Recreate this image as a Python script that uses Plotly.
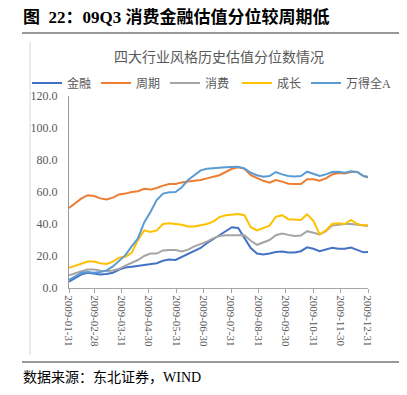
import plotly.graph_objects as go

dates = [
    "2009-01-31", "2009-02-07", "2009-02-14", "2009-02-21", "2009-02-28", "2009-03-07",
    "2009-03-14", "2009-03-21", "2009-03-28", "2009-04-04", "2009-04-11", "2009-04-18",
    "2009-04-25", "2009-05-02", "2009-05-09", "2009-05-16", "2009-05-23", "2009-05-30",
    "2009-06-06", "2009-06-13", "2009-06-20", "2009-06-27", "2009-07-04", "2009-07-11",
    "2009-07-18", "2009-07-25", "2009-08-01", "2009-08-08", "2009-08-15", "2009-08-22",
    "2009-08-29", "2009-09-05", "2009-09-12", "2009-09-19", "2009-09-26", "2009-10-03",
    "2009-10-10", "2009-10-17", "2009-10-24", "2009-10-31", "2009-11-07", "2009-11-14",
    "2009-11-21", "2009-11-28", "2009-12-05", "2009-12-12", "2009-12-19", "2009-12-26",
    "2009-12-31",
]

jinrong = [4, 6.5, 8.5, 9.5, 9.2, 8.5, 8.7, 9.5, 11.5, 12.8, 13.3, 13.8, 14.4, 15, 15.5,
           17, 17.8, 17.5, 19.5, 21, 23, 25, 28, 30.5, 33, 35.5, 38, 37.5, 31, 25, 21.5,
           21, 21.6, 22.5, 22.8, 22.2, 22.2, 23, 25.4, 24.5, 23, 24, 25.2, 24.5, 24.5,
           25.3, 23.8, 22.3, 22.5]

zhouqi = [50, 53, 56, 58, 57.5, 56, 55.3, 56.5, 58.5, 59, 60, 60.5, 62, 61.5, 62.5, 64,
          65, 65, 66, 66.5, 67, 67.5, 68.5, 69.5, 70.5, 72.5, 74.5, 75.5, 74.5, 70.5,
          68.5, 67, 65.8, 67.5, 66.5, 65.2, 65, 65, 68, 68, 67, 68.5, 71, 71.8, 71.5,
          72.5, 72.5, 70, 69]

xiaofei = [8, 9.5, 10.5, 11.5, 11.5, 10.8, 10.5, 11, 12, 14, 15.6, 17.5, 20, 21.5, 21.5,
           23.5, 23.8, 23.8, 22.8, 24, 26, 27.5, 29, 31, 32.5, 33, 33.2, 33, 33, 29.5,
           27, 28.5, 30, 33, 34, 33.2, 32.5, 32.8, 35.5, 34.5, 33.5, 35.5, 39, 39.5, 40,
           40, 39.5, 39, 38.8]

chengzhang = [12.7, 14, 15.5, 16.5, 16.5, 15.5, 15, 16.5, 19, 19.5, 22, 30, 36, 35, 36,
              40, 40.5, 40, 39.5, 38.5, 38.5, 39.2, 40, 41.5, 44.3, 45.5, 46, 46.2, 45.5,
              38, 36, 37.5, 39, 44.5, 45.5, 43, 42.8, 42.5, 46, 42, 33.5, 36, 40, 40.5,
              40, 42.5, 40, 39, 39.4]

wande = [5, 7, 9.5, 10, 9.5, 10, 11, 13.5, 17, 20.5, 26, 31, 41, 47.5, 55, 59, 59.8, 60,
         63, 67.5, 70.5, 73.5, 74.5, 75, 75.2, 75.5, 75.8, 75.8, 74.8, 72, 70.5, 69.5,
         70, 72.5, 71, 70, 69.7, 70, 72.7, 71.5, 70, 71, 72.5, 72.7, 72, 73, 72.5, 70,
         69.6]

series_names = ["金融", "周期", "消费", "成长", "万得全A"]
series_values = [jinrong, zhouqi, xiaofei, chengzhang, wande]
series_colors = ["#4472C4", "#ED7D31", "#A5A5A5", "#FFC000", "#5B9BD5"]
series_legend = ["legend", "legend", "legend", "legend2", "legend2"]

tick_dates = ["2009-01-31", "2009-02-28", "2009-03-31", "2009-04-30", "2009-05-31",
              "2009-06-30", "2009-07-31", "2009-08-31", "2009-09-30", "2009-10-31",
              "2009-11-30", "2009-12-31"]
y_ticks = [0, 20, 40, 60, 80, 100, 120]

FONT = "Liberation Serif, Noto Sans CJK SC, serif"
GRAY = "#595959"

# page has an 8px body margin; figure is sized to fit the 407x395 window
W, H = 399, 387
PL, PR, PT, PB = 69, 368, 96, 288   # plot area in page pixels


def xp(px):
    return (px - PL) / (PR - PL)


def yp(py):
    return (PB - py) / (PB - PT)


fig = go.Figure()
for name, vals, col, lg in zip(series_names, series_values, series_colors, series_legend):
    fig.add_trace(go.Scatter(x=dates, y=vals, name=name, mode="lines", legend=lg,
                             line=dict(color=col, width=2)))

legend_common = dict(orientation="h", xref="container", yref="paper",
                     y=yp(83), yanchor="middle",
                     font=dict(size=12, color=GRAY, family=FONT),
                     itemwidth=30, tracegroupgap=0, bgcolor="rgba(0,0,0,0)")

fig.update_layout(
    width=W, height=H,
    margin=dict(l=PL - 8, r=W - (PR - 8), t=PT - 8, b=H - (PB - 8), autoexpand=False),
    paper_bgcolor="white", plot_bgcolor="white",
    font=dict(family=FONT, color=GRAY, size=12),
    showlegend=True,
    legend=dict(legend_common, x=(27 - 8) / W, xanchor="left"),
    legend2=dict(legend_common, x=(237 - 8) / W, xanchor="left"),
    xaxis=dict(type="date", range=["2009-01-31", "2009-12-31"],
               tickvals=tick_dates, ticktext=tick_dates, tickangle=90,
               showgrid=False, zeroline=False, showline=True, linecolor="#A6A6A6",
               linewidth=1, ticks="outside", ticklen=4, tickcolor="#A6A6A6",
               tickfont=dict(size=11, color=GRAY, family=FONT), automargin=False),
    yaxis=dict(range=[0, 120], tickvals=y_ticks, tickformat=".1f",
               showgrid=False, zeroline=False, showline=True, linecolor="#999999",
               linewidth=1, ticks="outside", ticklen=8, tickcolor="rgba(0,0,0,0)",
               tickfont=dict(size=12, color=GRAY, family=FONT), automargin=False),
    shapes=[
        dict(type="line", xref="paper", yref="paper",
             x0=xp(22), x1=xp(402), y0=yp(33), y1=yp(33),
             line=dict(color="#333333", width=1)),
        dict(type="line", xref="paper", yref="paper",
             x0=xp(22), x1=xp(402), y0=yp(362), y1=yp(362),
             line=dict(color="#333333", width=1)),
        dict(type="line", xref="paper", yref="paper",
             x0=xp(30), x1=xp(30), y0=yp(42), y1=yp(355),
             line=dict(color="#D9D9D9", width=1)),
    ],
    annotations=[
        dict(text="<b>图  22：09Q3 消费金融估值分位较周期低</b>", xref="paper", yref="paper",
             x=xp(21), y=yp(17), xanchor="left", yanchor="middle",
             showarrow=False, font=dict(size=17, color="#000000", family=FONT)),
        dict(text="四大行业风格历史估值分位数情况", xref="paper", yref="paper",
             x=xp(219), y=yp(57), xanchor="center", yanchor="middle",
             showarrow=False, font=dict(size=14, color=GRAY, family=FONT)),
        dict(text="数据来源：东北证券，WIND", xref="paper", yref="paper",
             x=xp(21), y=yp(377), xanchor="left", yanchor="middle",
             showarrow=False, font=dict(size=14, color="#000000", family=FONT)),
    ],
)

fig.write_html("out.html")
